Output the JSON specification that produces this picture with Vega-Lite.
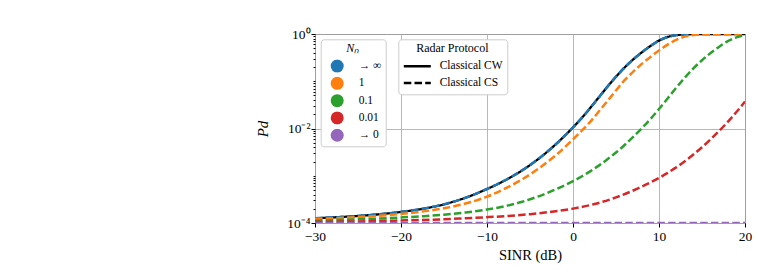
{
  "$schema": "https://vega.github.io/schema/vega-lite/v6.json",
  "width": 430,
  "height": 189,
  "autosize": {"type": "none"},
  "padding": {"left": 315, "top": 34, "right": 14, "bottom": 49},
  "background": "white",
  "config": {
    "font": "Liberation Serif",
    "view": {"stroke": "black", "strokeWidth": 1},
    "axis": {
      "labelFont": "Liberation Serif",
      "titleFont": "Liberation Serif",
      "labelFontSize": 13.5,
      "titleFontSize": 14.5,
      "titleFontWeight": "normal",
      "labelColor": "black",
      "titleColor": "black",
      "tickColor": "black",
      "domain": false,
      "gridColor": "#b0b0b0",
      "gridWidth": 0.9,
      "tickSize": 4,
      "labelOverlap": false,
      "labelBound": false,
      "labelFlush": false
    },
    "legend": {
      "labelFont": "Liberation Serif",
      "titleFont": "Liberation Serif",
      "labelFontSize": 11.5,
      "titleFontSize": 12,
      "titleFontWeight": "normal",
      "labelColor": "black",
      "titleColor": "black",
      "fillColor": "white",
      "strokeColor": "#cccccc",
      "cornerRadius": 3,
      "titleAnchor": "middle",
      "titleAlign": "center"
    }
  },
  "data": {
    "values": [
      {"sinr": -30, "pd": 0.0001259, "protocol": "Classical CW"},
      {"sinr": -27.5, "pd": 0.0001324, "protocol": "Classical CW"},
      {"sinr": -25, "pd": 0.0001409, "protocol": "Classical CW"},
      {"sinr": -22.5, "pd": 0.0001531, "protocol": "Classical CW"},
      {"sinr": -20, "pd": 0.0001718, "protocol": "Classical CW"},
      {"sinr": -17.5, "pd": 0.0001995, "protocol": "Classical CW"},
      {"sinr": -15, "pd": 0.0002483, "protocol": "Classical CW"},
      {"sinr": -12.5, "pd": 0.0003428, "protocol": "Classical CW"},
      {"sinr": -10, "pd": 0.0005248, "protocol": "Classical CW"},
      {"sinr": -9, "pd": 0.0006353, "protocol": "Classical CW"},
      {"sinr": -8, "pd": 0.0007834, "protocol": "Classical CW"},
      {"sinr": -7, "pd": 0.0009863, "protocol": "Classical CW"},
      {"sinr": -6, "pd": 0.001271, "protocol": "Classical CW"},
      {"sinr": -5, "pd": 0.001683, "protocol": "Classical CW"},
      {"sinr": -4, "pd": 0.002291, "protocol": "Classical CW"},
      {"sinr": -3, "pd": 0.003214, "protocol": "Classical CW"},
      {"sinr": -2, "pd": 0.004645, "protocol": "Classical CW"},
      {"sinr": -1, "pd": 0.006918, "protocol": "Classical CW"},
      {"sinr": 0, "pd": 0.01057, "protocol": "Classical CW"},
      {"sinr": 1, "pd": 0.01656, "protocol": "Classical CW"},
      {"sinr": 2, "pd": 0.02716, "protocol": "Classical CW"},
      {"sinr": 3, "pd": 0.0456, "protocol": "Classical CW"},
      {"sinr": 4, "pd": 0.0766, "protocol": "Classical CW"},
      {"sinr": 5, "pd": 0.1252, "protocol": "Classical CW"},
      {"sinr": 6, "pd": 0.1954, "protocol": "Classical CW"},
      {"sinr": 7, "pd": 0.2897, "protocol": "Classical CW"},
      {"sinr": 8, "pd": 0.4083, "protocol": "Classical CW"},
      {"sinr": 9, "pd": 0.5559, "protocol": "Classical CW"},
      {"sinr": 10, "pd": 0.7244, "protocol": "Classical CW"},
      {"sinr": 11, "pd": 0.866, "protocol": "Classical CW"},
      {"sinr": 12, "pd": 0.9462, "protocol": "Classical CW"},
      {"sinr": 13, "pd": 0.9795, "protocol": "Classical CW"},
      {"sinr": 14, "pd": 0.992, "protocol": "Classical CW"},
      {"sinr": 15, "pd": 0.9966, "protocol": "Classical CW"},
      {"sinr": 16, "pd": 0.9989, "protocol": "Classical CW"},
      {"sinr": 17, "pd": 1.0, "protocol": "Classical CW"},
      {"sinr": 20, "pd": 1.0, "protocol": "Classical CW"},

      {"sinr": -30, "pd": 0.0001259, "nn": "→ ∞", "protocol": "Classical CS"},
      {"sinr": -27.5, "pd": 0.0001324, "nn": "→ ∞", "protocol": "Classical CS"},
      {"sinr": -25, "pd": 0.0001409, "nn": "→ ∞", "protocol": "Classical CS"},
      {"sinr": -22.5, "pd": 0.0001531, "nn": "→ ∞", "protocol": "Classical CS"},
      {"sinr": -20, "pd": 0.0001718, "nn": "→ ∞", "protocol": "Classical CS"},
      {"sinr": -17.5, "pd": 0.0001995, "nn": "→ ∞", "protocol": "Classical CS"},
      {"sinr": -15, "pd": 0.0002483, "nn": "→ ∞", "protocol": "Classical CS"},
      {"sinr": -12.5, "pd": 0.0003428, "nn": "→ ∞", "protocol": "Classical CS"},
      {"sinr": -10, "pd": 0.0005248, "nn": "→ ∞", "protocol": "Classical CS"},
      {"sinr": -9, "pd": 0.0006353, "nn": "→ ∞", "protocol": "Classical CS"},
      {"sinr": -8, "pd": 0.0007834, "nn": "→ ∞", "protocol": "Classical CS"},
      {"sinr": -7, "pd": 0.0009863, "nn": "→ ∞", "protocol": "Classical CS"},
      {"sinr": -6, "pd": 0.001271, "nn": "→ ∞", "protocol": "Classical CS"},
      {"sinr": -5, "pd": 0.001683, "nn": "→ ∞", "protocol": "Classical CS"},
      {"sinr": -4, "pd": 0.002291, "nn": "→ ∞", "protocol": "Classical CS"},
      {"sinr": -3, "pd": 0.003214, "nn": "→ ∞", "protocol": "Classical CS"},
      {"sinr": -2, "pd": 0.004645, "nn": "→ ∞", "protocol": "Classical CS"},
      {"sinr": -1, "pd": 0.006918, "nn": "→ ∞", "protocol": "Classical CS"},
      {"sinr": 0, "pd": 0.01057, "nn": "→ ∞", "protocol": "Classical CS"},
      {"sinr": 1, "pd": 0.01656, "nn": "→ ∞", "protocol": "Classical CS"},
      {"sinr": 2, "pd": 0.02716, "nn": "→ ∞", "protocol": "Classical CS"},
      {"sinr": 3, "pd": 0.0456, "nn": "→ ∞", "protocol": "Classical CS"},
      {"sinr": 4, "pd": 0.0766, "nn": "→ ∞", "protocol": "Classical CS"},
      {"sinr": 5, "pd": 0.1252, "nn": "→ ∞", "protocol": "Classical CS"},
      {"sinr": 6, "pd": 0.1954, "nn": "→ ∞", "protocol": "Classical CS"},
      {"sinr": 7, "pd": 0.2897, "nn": "→ ∞", "protocol": "Classical CS"},
      {"sinr": 8, "pd": 0.4083, "nn": "→ ∞", "protocol": "Classical CS"},
      {"sinr": 9, "pd": 0.5559, "nn": "→ ∞", "protocol": "Classical CS"},
      {"sinr": 10, "pd": 0.7244, "nn": "→ ∞", "protocol": "Classical CS"},
      {"sinr": 11, "pd": 0.866, "nn": "→ ∞", "protocol": "Classical CS"},
      {"sinr": 12, "pd": 0.9462, "nn": "→ ∞", "protocol": "Classical CS"},
      {"sinr": 13, "pd": 0.9795, "nn": "→ ∞", "protocol": "Classical CS"},
      {"sinr": 14, "pd": 0.992, "nn": "→ ∞", "protocol": "Classical CS"},
      {"sinr": 15, "pd": 0.9966, "nn": "→ ∞", "protocol": "Classical CS"},
      {"sinr": 16, "pd": 0.9989, "nn": "→ ∞", "protocol": "Classical CS"},
      {"sinr": 17, "pd": 1.0, "nn": "→ ∞", "protocol": "Classical CS"},
      {"sinr": 20, "pd": 1.0, "nn": "→ ∞", "protocol": "Classical CS"},

      {"sinr": -30, "pd": 0.0001208, "nn": "1", "protocol": "Classical CS"},
      {"sinr": -25, "pd": 0.0001334, "nn": "1", "protocol": "Classical CS"},
      {"sinr": -20, "pd": 0.0001552, "nn": "1", "protocol": "Classical CS"},
      {"sinr": -17.5, "pd": 0.000175, "nn": "1", "protocol": "Classical CS"},
      {"sinr": -15, "pd": 0.0002046, "nn": "1", "protocol": "Classical CS"},
      {"sinr": -12.5, "pd": 0.0002582, "nn": "1", "protocol": "Classical CS"},
      {"sinr": -10, "pd": 0.0003606, "nn": "1", "protocol": "Classical CS"},
      {"sinr": -8, "pd": 0.0005248, "nn": "1", "protocol": "Classical CS"},
      {"sinr": -6, "pd": 0.0008204, "nn": "1", "protocol": "Classical CS"},
      {"sinr": -4, "pd": 0.001422, "nn": "1", "protocol": "Classical CS"},
      {"sinr": -2, "pd": 0.00271, "nn": "1", "protocol": "Classical CS"},
      {"sinr": 0, "pd": 0.005902, "nn": "1", "protocol": "Classical CS"},
      {"sinr": 1, "pd": 0.008917, "nn": "1", "protocol": "Classical CS"},
      {"sinr": 2, "pd": 0.01384, "nn": "1", "protocol": "Classical CS"},
      {"sinr": 3, "pd": 0.02284, "nn": "1", "protocol": "Classical CS"},
      {"sinr": 4, "pd": 0.03803, "nn": "1", "protocol": "Classical CS"},
      {"sinr": 5, "pd": 0.06386, "nn": "1", "protocol": "Classical CS"},
      {"sinr": 6, "pd": 0.1054, "nn": "1", "protocol": "Classical CS"},
      {"sinr": 7, "pd": 0.16, "nn": "1", "protocol": "Classical CS"},
      {"sinr": 8, "pd": 0.2333, "nn": "1", "protocol": "Classical CS"},
      {"sinr": 9, "pd": 0.3266, "nn": "1", "protocol": "Classical CS"},
      {"sinr": 10, "pd": 0.4477, "nn": "1", "protocol": "Classical CS"},
      {"sinr": 11, "pd": 0.5943, "nn": "1", "protocol": "Classical CS"},
      {"sinr": 12, "pd": 0.7507, "nn": "1", "protocol": "Classical CS"},
      {"sinr": 13, "pd": 0.881, "nn": "1", "protocol": "Classical CS"},
      {"sinr": 14, "pd": 0.9528, "nn": "1", "protocol": "Classical CS"},
      {"sinr": 15, "pd": 0.9818, "nn": "1", "protocol": "Classical CS"},
      {"sinr": 16, "pd": 0.9931, "nn": "1", "protocol": "Classical CS"},
      {"sinr": 17, "pd": 0.9972, "nn": "1", "protocol": "Classical CS"},
      {"sinr": 18, "pd": 1.0, "nn": "1", "protocol": "Classical CS"},
      {"sinr": 20, "pd": 1.0, "nn": "1", "protocol": "Classical CS"},

      {"sinr": -30, "pd": 0.0001114, "nn": "0.1", "protocol": "Classical CS"},
      {"sinr": -25, "pd": 0.0001194, "nn": "0.1", "protocol": "Classical CS"},
      {"sinr": -20, "pd": 0.0001309, "nn": "0.1", "protocol": "Classical CS"},
      {"sinr": -17.5, "pd": 0.000139, "nn": "0.1", "protocol": "Classical CS"},
      {"sinr": -15, "pd": 0.00015, "nn": "0.1", "protocol": "Classical CS"},
      {"sinr": -12.5, "pd": 0.0001671, "nn": "0.1", "protocol": "Classical CS"},
      {"sinr": -10, "pd": 0.0001923, "nn": "0.1", "protocol": "Classical CS"},
      {"sinr": -8, "pd": 0.0002254, "nn": "0.1", "protocol": "Classical CS"},
      {"sinr": -6, "pd": 0.0002786, "nn": "0.1", "protocol": "Classical CS"},
      {"sinr": -4, "pd": 0.0003673, "nn": "0.1", "protocol": "Classical CS"},
      {"sinr": -2, "pd": 0.0005164, "nn": "0.1", "protocol": "Classical CS"},
      {"sinr": 0, "pd": 0.0007674, "nn": "0.1", "protocol": "Classical CS"},
      {"sinr": 1, "pd": 0.0009638, "nn": "0.1", "protocol": "Classical CS"},
      {"sinr": 2, "pd": 0.001239, "nn": "0.1", "protocol": "Classical CS"},
      {"sinr": 3, "pd": 0.001637, "nn": "0.1", "protocol": "Classical CS"},
      {"sinr": 4, "pd": 0.002222, "nn": "0.1", "protocol": "Classical CS"},
      {"sinr": 5, "pd": 0.003105, "nn": "0.1", "protocol": "Classical CS"},
      {"sinr": 6, "pd": 0.004477, "nn": "0.1", "protocol": "Classical CS"},
      {"sinr": 7, "pd": 0.00665, "nn": "0.1", "protocol": "Classical CS"},
      {"sinr": 8, "pd": 0.01014, "nn": "0.1", "protocol": "Classical CS"},
      {"sinr": 9, "pd": 0.01583, "nn": "0.1", "protocol": "Classical CS"},
      {"sinr": 10, "pd": 0.02585, "nn": "0.1", "protocol": "Classical CS"},
      {"sinr": 11, "pd": 0.0433, "nn": "0.1", "protocol": "Classical CS"},
      {"sinr": 12, "pd": 0.07268, "nn": "0.1", "protocol": "Classical CS"},
      {"sinr": 13, "pd": 0.1191, "nn": "0.1", "protocol": "Classical CS"},
      {"sinr": 14, "pd": 0.1868, "nn": "0.1", "protocol": "Classical CS"},
      {"sinr": 15, "pd": 0.2786, "nn": "0.1", "protocol": "Classical CS"},
      {"sinr": 16, "pd": 0.3946, "nn": "0.1", "protocol": "Classical CS"},
      {"sinr": 17, "pd": 0.5389, "nn": "0.1", "protocol": "Classical CS"},
      {"sinr": 18, "pd": 0.7056, "nn": "0.1", "protocol": "Classical CS"},
      {"sinr": 19, "pd": 0.8504, "nn": "0.1", "protocol": "Classical CS"},
      {"sinr": 20, "pd": 0.9377, "nn": "0.1", "protocol": "Classical CS"},

      {"sinr": -30, "pd": 0.000106, "nn": "0.01", "protocol": "Classical CS"},
      {"sinr": -25, "pd": 0.000108, "nn": "0.01", "protocol": "Classical CS"},
      {"sinr": -20, "pd": 0.000113, "nn": "0.01", "protocol": "Classical CS"},
      {"sinr": -15, "pd": 0.00012, "nn": "0.01", "protocol": "Classical CS"},
      {"sinr": -12.5, "pd": 0.0001262, "nn": "0.01", "protocol": "Classical CS"},
      {"sinr": -10, "pd": 0.0001327, "nn": "0.01", "protocol": "Classical CS"},
      {"sinr": -7.5, "pd": 0.0001413, "nn": "0.01", "protocol": "Classical CS"},
      {"sinr": -5, "pd": 0.0001538, "nn": "0.01", "protocol": "Classical CS"},
      {"sinr": -2.5, "pd": 0.0001729, "nn": "0.01", "protocol": "Classical CS"},
      {"sinr": 0, "pd": 0.0002014, "nn": "0.01", "protocol": "Classical CS"},
      {"sinr": 2.5, "pd": 0.0002518, "nn": "0.01", "protocol": "Classical CS"},
      {"sinr": 5, "pd": 0.0003483, "nn": "0.01", "protocol": "Classical CS"},
      {"sinr": 7.5, "pd": 0.000535, "nn": "0.01", "protocol": "Classical CS"},
      {"sinr": 10, "pd": 0.0008995, "nn": "0.01", "protocol": "Classical CS"},
      {"sinr": 11, "pd": 0.001148, "nn": "0.01", "protocol": "Classical CS"},
      {"sinr": 12, "pd": 0.001503, "nn": "0.01", "protocol": "Classical CS"},
      {"sinr": 13, "pd": 0.002024, "nn": "0.01", "protocol": "Classical CS"},
      {"sinr": 14, "pd": 0.002807, "nn": "0.01", "protocol": "Classical CS"},
      {"sinr": 15, "pd": 0.004009, "nn": "0.01", "protocol": "Classical CS"},
      {"sinr": 16, "pd": 0.005902, "nn": "0.01", "protocol": "Classical CS"},
      {"sinr": 17, "pd": 0.008917, "nn": "0.01", "protocol": "Classical CS"},
      {"sinr": 18, "pd": 0.01384, "nn": "0.01", "protocol": "Classical CS"},
      {"sinr": 19, "pd": 0.02228, "nn": "0.01", "protocol": "Classical CS"},
      {"sinr": 20, "pd": 0.03707, "nn": "0.01", "protocol": "Classical CS"},

      {"sinr": -30, "pd": 0.0001, "nn": "→ 0", "protocol": "Classical CS"},
      {"sinr": 20, "pd": 0.0001, "nn": "→ 0", "protocol": "Classical CS"}
    ]
  },
  "encoding": {
    "x": {
      "field": "sinr",
      "type": "quantitative",
      "title": "SINR (dB)",
      "scale": {"domain": [-30, 20], "nice": false},
      "axis": {"values": [-30, -20, -10, 0, 10, 20], "grid": true, "labelPadding": 2, "titlePadding": 6}
    },
    "y": {
      "field": "pd",
      "type": "quantitative",
      "title": "Pd",
      "scale": {"type": "log", "domain": [0.0001, 1], "nice": false},
      "axis": {
        "values": [0.0001, 0.0002, 0.0003, 0.0004, 0.0005, 0.0006, 0.0007, 0.0008, 0.0009,
                   0.001, 0.002, 0.003, 0.004, 0.005, 0.006, 0.007, 0.008, 0.009,
                   0.01, 0.02, 0.03, 0.04, 0.05, 0.06, 0.07, 0.08, 0.09,
                   0.1, 0.2, 0.3, 0.4, 0.5, 0.6, 0.7, 0.8, 0.9, 1],
        "labelExpr": "datum.value == 1 ? '10⁰' : datum.value == 0.01 ? '10⁻²' : datum.value == 0.0001 ? '10⁻⁴' : ''",
        "grid": true,
        "gridOpacity": {"condition": {"test": "datum.value == 1 || datum.value == 0.01 || datum.value == 0.0001", "value": 1}, "value": 0},
        "tickSize": {"condition": {"test": "datum.value == 1 || datum.value == 0.01 || datum.value == 0.0001", "value": 4}, "value": 2},
        "labelPadding": 1,
        "titlePadding": 16,
        "titleFontStyle": "italic",
        "titleFontSize": 15
      }
    }
  },
  "layer": [
    {
      "transform": [{"filter": "datum.protocol === 'Classical CW'"}],
      "mark": {"type": "line", "color": "black", "strokeWidth": 2.3, "clip": true, "interpolate": "monotone"},
      "encoding": {
        "strokeDash": {
          "field": "protocol",
          "type": "nominal",
          "scale": {"domain": ["Classical CW", "Classical CS"], "range": [[1, 0], [7.5, 3.2]]},
          "legend": {
            "title": "Radar Protocol",
            "orient": "none",
            "legendX": 83.3,
            "legendY": 5.3,
            "padding": 4,
            "titlePadding": 4,
            "clipHeight": 14,
            "rowPadding": 2.6,
            "symbolType": "stroke",
            "symbolSize": 729,
            "symbolStrokeWidth": 2.5,
            "symbolStrokeColor": "black",
            "labelOffset": 7.4,
            "encode": {"symbols": {"update": {"stroke": {"value": "black"}, "strokeWidth": {"value": 2.5}}}}
          }
        }
      }
    },
    {
      "transform": [{"filter": "datum.protocol === 'Classical CS'"}],
      "mark": {"type": "line", "strokeWidth": 2.5, "clip": true, "interpolate": "monotone", "strokeCap": "butt"},
      "encoding": {
        "strokeDash": {"field": "protocol", "type": "nominal"},
        "color": {
          "field": "nn",
          "type": "nominal",
          "scale": {
            "domain": ["→ ∞", "1", "0.1", "0.01", "→ 0"],
            "range": ["#1f77b4", "#ff7f0e", "#2ca02c", "#d62728", "#9467bd"]
          },
          "legend": {
            "title": "Nₙ",
            "titleFontStyle": "italic",
            "orient": "none",
            "legendX": 5.7,
            "legendY": 5.3,
            "padding": 4,
            "titlePadding": 4,
            "symbolOffset": 6,
            "clipHeight": 13.5,
            "rowPadding": 3.3,
            "symbolType": "circle",
            "symbolSize": 169,
            "labelOffset": 15,
            "labelExpr": "datum.label + '\u2002\u2009'",
            "encode": {"symbols": {"update": {"fill": {"scale": "color", "field": "value"}, "fillOpacity": {"value": 1}, "strokeWidth": {"value": 0}}}}
          }
        }
      }
    }
  ]
}
